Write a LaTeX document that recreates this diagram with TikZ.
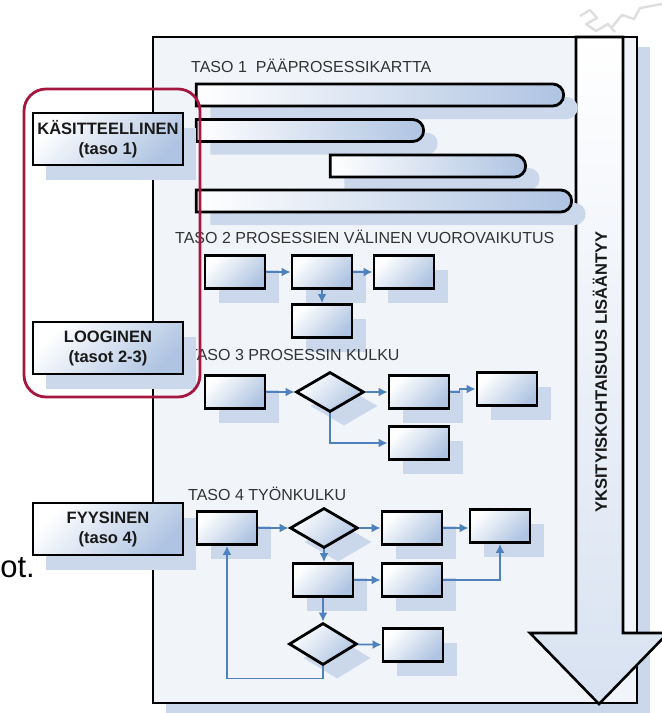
\documentclass[tikz,border=0pt]{standalone}
\usepackage{fontspec}
\setmainfont{Liberation Sans}
\usetikzlibrary{positioning,shapes.geometric,shapes.misc,shadows,arrows.meta}

\definecolor{boxblue}{HTML}{AFC4E2}
\definecolor{shadeblue}{HTML}{CBD8EC}
\definecolor{flowblue}{HTML}{4F81BD}
\definecolor{tasored}{HTML}{A5173F}
\definecolor{framefill}{HTML}{F1F5FA}
\definecolor{arrowfill}{HTML}{D8E2F1}
\definecolor{logogray}{HTML}{DEDEDE}
\definecolor{titlegray}{HTML}{333333}

\begin{document}
\begin{tikzpicture}[x=1pt, y=-1pt]
    \tikzset{
        procbox/.style = {rectangle, draw=black, line width=2.8pt, minimum width=60pt, minimum height=33pt, top color=white, bottom color=boxblue, shading angle=45, general shadow={fill=shadeblue, shadow xshift=14pt, shadow yshift=-14pt}},
        decision/.style = {diamond, draw=black, line width=2.8pt, minimum width=68pt, minimum height=40pt, inner sep=0pt, top color=white, bottom color=boxblue, shading angle=45, general shadow={fill=shadeblue, shadow xshift=14pt, shadow yshift=-14pt}},
        levelbox/.style = {rectangle, draw=black, line width=2.8pt, minimum width=150pt, minimum height=52pt, top color=white, bottom color=boxblue, shading angle=45, align=center, text=black!90, font=\bfseries\fontsize{16.5}{20}\selectfont, general shadow={fill=shadeblue, shadow xshift=13pt, shadow yshift=-15pt}},
        mapbar/.style = {rounded rectangle, rounded rectangle west arc=none, draw=black, line width=2.8pt, minimum height=22pt, left color=white, right color=boxblue, general shadow={fill=shadeblue, shadow xshift=14pt, shadow yshift=-13pt}},
        tasotitle/.style = {anchor=west, inner sep=0pt, text=titlegray, font=\fontsize{16}{18}\selectfont},
        flowarrow/.style = {line width=1.8pt, draw=flowblue, ->, >={Latex[length=9pt, width=9pt]}},
    }
    \useasboundingbox [fill=white] (0,0) rectangle (662,713);

    \draw [logogray, line width=2.4pt, line join=round] (580,16) -- (590,10) -- (597,18) -- (586,24) -- (596,31) -- (608,24) -- (615,32);
    \draw [logogray, line width=2.4pt, line join=round] (612,27) -- (622,15) -- (634,19) -- (640,8) -- (662,4);

    \node (levelframe) [draw=black, line width=2.6pt, fill=framefill, minimum width=484pt, minimum height=666pt, general shadow={fill=shadeblue, shadow xshift=13pt, shadow yshift=-10pt}] at (395,370) {};
    \draw [line width=2.6pt, line join=miter, top color=white, bottom color=arrowfill] (576,37) -- (576,633) -- (530,633) -- (599,704) -- (668,633) -- (623,633) -- (623,37) -- cycle;
    \node (detail) [rotate=90, font=\bfseries\fontsize{16.5}{18}\selectfont, text=black!90] at (600,372) {YKSITYISKOHTAISUUS LISÄÄNTYY};

    \node (stray) [anchor=base east, inner sep=0pt, font=\fontsize{31}{33}\selectfont] at (35,577) {ot.};

    \node (title1) [tasotitle] at (191,66) {TASO 1\ \ PÄÄPROSESSIKARTTA};
    \node (bar1) [mapbar, minimum width=374pt] at (380,95) {};
    \node (bar2) [mapbar, minimum width=234pt] at (310,130.5) {};
    \node (bar3) [mapbar, minimum width=202pt] at (428,166) {};
    \node (bar4) [mapbar, minimum width=382pt] at (384,201) {};

    \node (title2) [tasotitle] at (175,237) {TASO 2 PROSESSIEN VÄLINEN VUOROVAIKUTUS};
    \node (p2a) [procbox] at (235,272) {};
    \node (p2b) [procbox] at (322,272) {};
    \node (p2c) [procbox] at (404,272) {};
    \node (p2d) [procbox] at (322,321) {};
    \draw [flowarrow] (p2a) -- (p2b);
    \draw [flowarrow] (p2b) -- (p2c);
    \draw [flowarrow] (p2b) -- (p2d);

    \node (title3) [tasotitle] at (188,355) {TASO 3 PROSESSIN KULKU};
    \node (p3a) [procbox] at (235,392) {};
    \node (p3dec) [decision] at (330,392) {};
    \node (p3b) [procbox] at (419,392) {};
    \node (p3c) [procbox] at (507,389) {};
    \node (p3d) [procbox] at (419,443) {};
    \draw [flowarrow] (p3a) -- (p3dec);
    \draw [flowarrow] (p3dec) -- (p3b);
    \draw [flowarrow] (p3b.east) -- ++(9,0) |- (p3c.west);
    \draw [flowarrow] (p3dec.south) |- (p3d.west);

    \node (title4) [tasotitle] at (188,494) {TASO 4 TYÖNKULKU};
    \node (p4a) [procbox] at (227,528) {};
    \node (p4dec) [decision] at (324,528) {};
    \node (p4b) [procbox] at (412,528) {};
    \node (p4c) [procbox] at (500,526) {};
    \node (p4d) [procbox] at (323,580) {};
    \node (p4e) [procbox] at (412,580) {};
    \node (p4dec2) [decision, minimum height=42pt] at (323,644) {};
    \node (p4f) [procbox] at (413,645) {};
    \draw [flowarrow] (p4a) -- (p4dec);
    \draw [flowarrow] (p4dec) -- (p4b);
    \draw [flowarrow] (p4b.east) -- (p4b.east -| p4c.west);
    \draw [flowarrow] (p4dec.south) -- (p4dec.south |- p4d.north);
    \draw [flowarrow] (p4d) -- (p4e);
    \draw [flowarrow] (p4e.east) -| (p4c.south);
    \draw [flowarrow] (p4d.south) -- (p4dec2.north);
    \draw [flowarrow] (p4dec2) -- (p4f);
    \draw [flowarrow] (p4dec2.south) -- ++(0,12) -| (p4a.south);

    \node (conceptual) [levelbox] at (108,139) {KÄSITTEELLINEN\\(taso 1)};
    \node (logical) [levelbox] at (108,348) {LOOGINEN\\(tasot 2-3)};
    \node (physical) [levelbox] at (108,529) {FYYSINEN\\(taso 4)};

    \node (logicgroup) [draw=tasored, line width=2.8pt, rounded corners=22pt, minimum width=176pt, minimum height=308pt] at (112,243) {};
\end{tikzpicture}
\end{document}
